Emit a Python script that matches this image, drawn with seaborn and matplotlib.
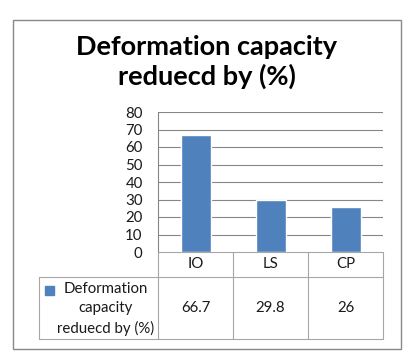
import numpy as np
import matplotlib
matplotlib.use('Agg')
import matplotlib.pyplot as plt
import seaborn as sns
from matplotlib.lines import Line2D
from matplotlib.patches import Rectangle

categories = ['IO', 'LS', 'CP']
values = [66.7, 29.8, 26]
value_labels = ['66.7', '29.8', '26']
series_name = 'Deformation\ncapacity\nreduecd by (%)'
title = 'Deformation capacity\nreduecd by (%)'
yticks = list(range(0, 90, 10))

bar_color = '#4F81BD'
grid_color = '#868686'
table_color = '#A6A6A6'

sns.set_style('white')
plt.rcParams['font.family'] = ['Lato', 'DejaVu Sans']

W, H = 409, 360
fig = plt.figure(figsize=(W / 100, H / 100), dpi=100)

def fx(px):
    return px / W

def fy(py):
    return 1 - py / H

# plot area in pixels
L, R, T, B = 158, 383, 112, 252
ax = fig.add_axes([fx(L), fy(B), (R - L) / W, (B - T) / H])
sns.barplot(x=categories, y=values, color=bar_color, saturation=1, width=0.4, ax=ax)
ax.set_xlim(-0.5, 2.5)
ax.set_ylim(0, 80)
ax.set_yticks(yticks)
ax.set_yticklabels([str(t) for t in yticks], fontsize=10.8, color='#1a1a1a')
ax.tick_params(axis='y', length=0, pad=11)
ax.set_xticks([])
ax.set_xlabel('')
ax.set_ylabel('')
for t in yticks[1:]:
    ax.axhline(t, color=grid_color, lw=0.8, zorder=0)
for s in ['top', 'right', 'bottom']:
    ax.spines[s].set_visible(False)
ax.spines['left'].set_color(grid_color)
ax.spines['left'].set_linewidth(0.8)

# data table below the plot
col_w = (R - L) / len(categories)
row1_b = 277
row2_b = 339
tab_l = 39

def hline(y, x0, x1):
    fig.add_artist(Line2D([fx(x0), fx(x1)], [fy(y), fy(y)], color=table_color, lw=0.8))

def vline(x, y0, y1):
    fig.add_artist(Line2D([fx(x), fx(x)], [fy(y0), fy(y1)], color=table_color, lw=0.8))

hline(B, L, R)
hline(row1_b, tab_l, R)
hline(row2_b, tab_l, R)
vline(tab_l, row1_b, row2_b)
for i in range(len(categories) + 1):
    vline(L + i * col_w, B, row2_b)

for i, (c, v) in enumerate(zip(categories, value_labels)):
    cx = L + (i + 0.5) * col_w
    fig.text(fx(cx), fy((B + row1_b) / 2), c, ha='center', va='center', fontsize=10.8, color='#1a1a1a')
    fig.text(fx(cx), fy((row1_b + row2_b) / 2), v, ha='center', va='center', fontsize=10.8, color='#1a1a1a')

fig.add_artist(Rectangle((fx(45), fy(295)), 9 / W, 9 / H, color=bar_color))
fig.text(fx(106), fy(309), series_name, ha='center', va='center', fontsize=10.8,
         color='#1a1a1a', linespacing=1.45)

# title
fig.text(fx(207), fy(62), title, ha='center', va='center', fontsize=19.5,
         fontweight='bold', color='black', linespacing=1.25)

# chart border
fig.add_artist(Rectangle((fx(13), fy(349)), (401 - 13) / W, (349 - 20) / H,
                         fill=False, edgecolor='#898989', lw=1))

fig.savefig('out.png', dpi=100)
